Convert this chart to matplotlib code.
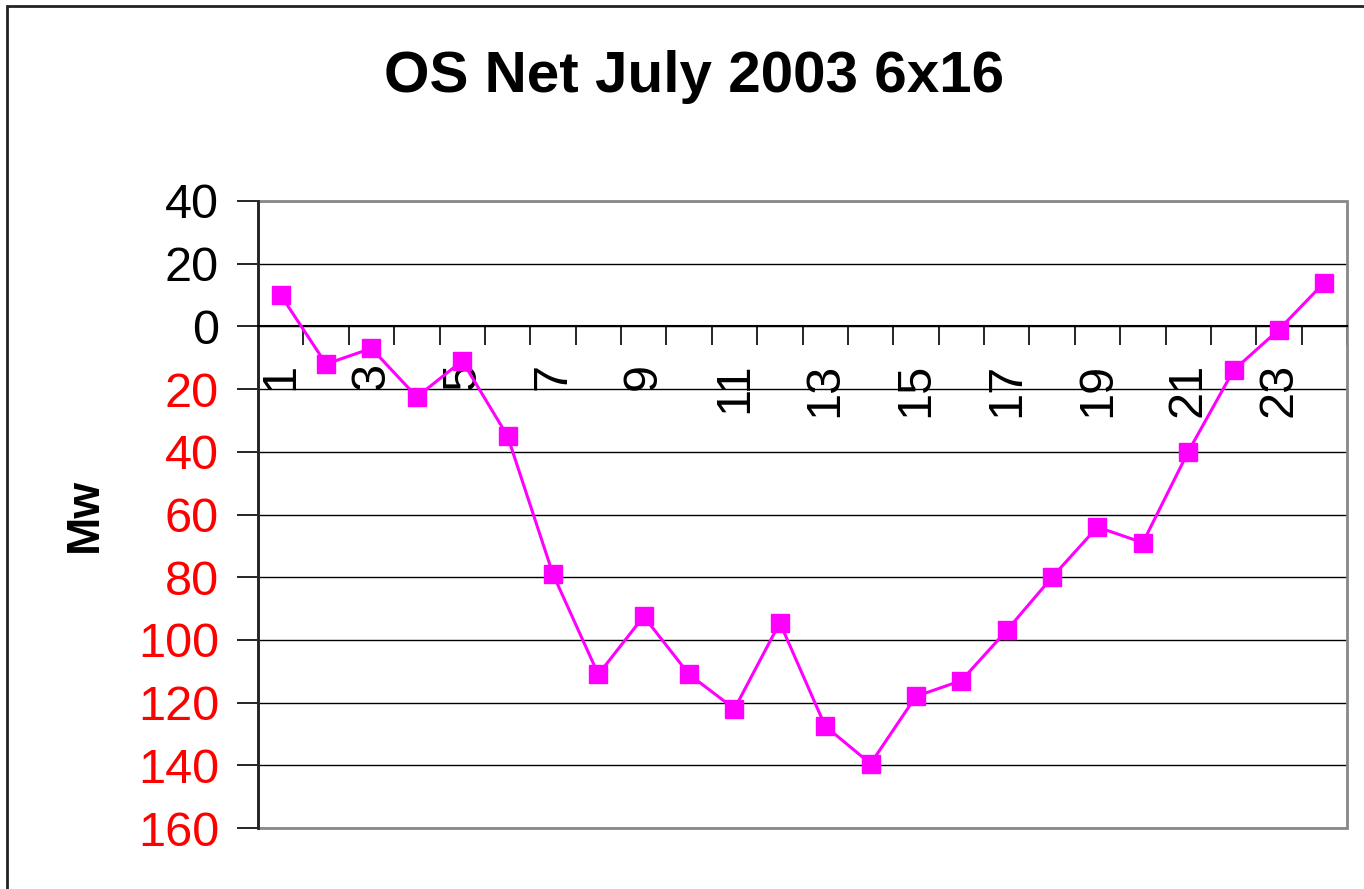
import matplotlib
matplotlib.use("Agg")
import matplotlib.pyplot as plt
from matplotlib.patches import Rectangle

plt.rcParams['font.family'] = ['Liberation Sans', 'DejaVu Sans']

# data (hour of day -> net MW)
hours = list(range(1, 25))
net_mw = [10, -12, -7, -22.5, -11, -35, -79, -111, -92.5, -111, -122, -94.5,
          -127.5, -139.5, -118, -113, -97, -80, -64, -69, -40, -14, -1, 14]
yticks = [40, 20, 0, -20, -40, -60, -80, -100, -120, -140, -160]
xlabels = [str(h) for h in hours[::2]]

W, H = 1364, 889
fig = plt.figure(figsize=(W / 100, H / 100), dpi=100)
fig.patch.set_facecolor('white')

# outer chart frame (cut off at right / bottom)
fig.patches.append(Rectangle((7 / W, -0.1), 1.2, (H - 6) / H + 0.1,
                             transform=fig.transFigure, fill=False,
                             edgecolor='#222222', lw=2))

ax = fig.add_axes([258 / W, 1 - 828 / H, (1347 - 258) / W, (828 - 201) / H])

ax.plot(hours, net_mw, color='#FF00FF', lw=2.2, marker='s', ms=13,
        markeredgecolor='#FF00FF', zorder=5, clip_on=False)

ax.set_xlim(0.5, 24.5)
ax.set_ylim(-160, 40)

# y axis
ax.set_yticks(yticks, labels=[str(abs(v)) for v in yticks])
for v, lab in zip(yticks, ax.get_yticklabels()):
    lab.set_color('red' if v < 0 else 'black')
    lab.set_fontsize(35)
ax.tick_params(axis='y', direction='out', length=15, width=1.2, pad=13,
               color='black')
ax.yaxis.grid(True, color='black', lw=1)
ax.set_axisbelow(True)

# x axis crosses at 0, ticks between categories
ax.spines['bottom'].set_position(('data', 0))
ax.spines['bottom'].set_color('black')
ax.spines['bottom'].set_linewidth(1.5)
ax.set_xticks([h - 0.5 for h in hours] + [24.5])
ax.set_xticklabels([])
ax.set_xticks(hours[::2], minor=True)
ax.set_xticklabels(xlabels, minor=True, rotation=90, fontsize=35)
ax.tick_params(axis='x', which='major', direction='out', length=14,
               width=1.2, color='black')
ax.tick_params(axis='x', which='minor', length=0, pad=26)

ax.spines['left'].set_color('#222222')
ax.spines['left'].set_linewidth(2)
ax.spines['top'].set_visible(False)
ax.spines['right'].set_visible(False)

# plot area border
ax.add_patch(Rectangle((0, 0), 1, 1, transform=ax.transAxes, fill=False,
                       edgecolor='#888888', lw=2, zorder=1, clip_on=False))

fig.text(694 / W, 1 - 92 / H, 'OS Net July 2003 6x16', ha='center',
         va='baseline', fontsize=42, fontweight='bold')
fig.text(85 / W, 1 - 515 / H, 'Mw', rotation=90, ha='center', va='center',
         fontsize=33, fontweight='bold')

fig.savefig('out.png', dpi=100)
